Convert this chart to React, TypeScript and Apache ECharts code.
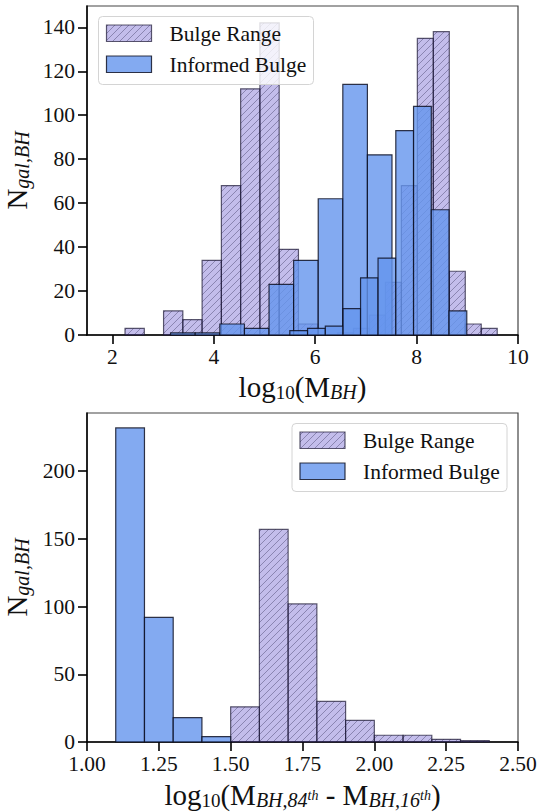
import React, { useEffect, useRef } from "react";
import * as echarts from "echarts";

// ---------- data ----------
// Top panel: log10(M_BH)
const topBulgeLowEdges = [2.25, 2.63, 3.01, 3.39, 3.77, 4.15, 4.53, 4.91, 5.29, 5.67, 6.05];
const topBulgeLowCounts = [3, 0, 11, 7, 34, 68, 112, 142, 39, 5];
const topBulgeHighEdges = [6.44, 6.755, 7.07, 7.385, 7.7, 8.015, 8.33, 8.645, 8.96, 9.275, 9.59];
const topBulgeHighCounts = [1, 3, 9, 24, 68, 135, 138, 29, 5, 3];
const topInformedWideEdges = [3.148, 3.634, 4.12, 4.605, 5.09, 5.575, 6.06, 6.545, 7.03, 7.515];
const topInformedWideCounts = [1, 1, 5, 3, 23, 34, 62, 114, 82];
const topInformedNarrowEdges = [5.5, 5.85, 6.2, 6.55, 6.895, 7.24, 7.59, 7.94, 8.29, 8.64, 8.99];
const topInformedNarrowCounts = [2, 3, 4, 12, 26, 35, 93, 104, 57, 11];
const topXTicks = [2, 4, 6, 8, 10];
const topYTicks = [0, 20, 40, 60, 80, 100, 120, 140];

// Bottom panel: log10(M_BH,84th - M_BH,16th)
const botInformedEdges = [1.1, 1.2, 1.3, 1.4, 1.5];
const botInformedCounts = [232, 92, 18, 4];
const botBulgeEdges = [1.5, 1.6, 1.7, 1.8, 1.9, 2.0, 2.1, 2.2, 2.3, 2.4];
const botBulgeCounts = [26, 157, 102, 30, 16, 5, 5, 2, 1];
const botXTicks = [1.0, 1.25, 1.5, 1.75, 2.0, 2.25, 2.5];
const botYTicks = [0, 50, 100, 150, 200];

const legendLabels = ["Bulge Range", "Informed Bulge"];

// ---------- styles ----------
const FONT = "Liberation Serif";
const PURPLE_FILL = "rgba(106,90,205,0.4)";
const PURPLE_EDGE = "rgba(25,22,50,0.7)";
const HATCH_COLOR = "rgba(35,30,70,0.45)";
const BLUE_FILL = "rgba(100,149,237,0.8)";
const BLUE_EDGE = "rgba(10,12,30,0.82)";
const HATCH_STEP = 7;

function toBins(edges: number[], counts: number[]) {
  return counts.map((c, i) => [edges[i], edges[i + 1], c]);
}

function hatchLines(x0: number, y0: number, w: number, h: number, z?: number) {
  const x1 = x0 + w;
  const y1 = y0 + h;
  const out: any[] = [];
  const start = Math.ceil((x0 + y0) / HATCH_STEP) * HATCH_STEP;
  for (let c = start; c <= x1 + y1; c += HATCH_STEP) {
    const lo = Math.max(x0, c - y1);
    const hi = Math.min(x1, c - y0);
    if (hi - lo > 0.2) {
      const el: any = {
        type: "line",
        shape: { x1: lo, y1: c - lo, x2: hi, y2: c - hi },
        style: { stroke: HATCH_COLOR, lineWidth: 0.8 },
        silent: true,
      };
      if (z !== undefined) el.z = z;
      out.push(el);
    }
  }
  return out;
}

function makeRender(hatched: boolean) {
  return (params: any, api: any) => {
    const cnt = api.value(2);
    if (!cnt) return null;
    const a = api.coord([api.value(0), 0]);
    const b = api.coord([api.value(1), cnt]);
    const x = a[0];
    const y = b[1];
    const w = b[0] - a[0];
    const h = a[1] - b[1];
    const children: any[] = [
      {
        type: "rect",
        shape: { x, y, width: w, height: h },
        style: { fill: hatched ? PURPLE_FILL : BLUE_FILL, stroke: "none" },
      },
    ];
    if (hatched) children.push(...hatchLines(x, y, w, h));
    children.push({
      type: "rect",
      shape: { x, y, width: w, height: h },
      style: { fill: "none", stroke: hatched ? PURPLE_EDGE : BLUE_EDGE, lineWidth: 1.2 },
    });
    return { type: "group", children };
  };
}

function histSeries(data: number[][], hatched: boolean, gi: number, z: number) {
  return {
    type: "custom",
    xAxisIndex: gi,
    yAxisIndex: gi,
    renderItem: makeRender(hatched),
    encode: { x: [0, 1], y: 2 },
    data,
    z,
    silent: true,
  };
}

function legendElements(bx: number, by: number, bw: number, bh: number) {
  const Z = 100;
  const px = bx + 8;
  const pw = 45;
  const ph = 16.5;
  const p1y = by + 8.5;
  const p2y = by + 39.5;
  const tx = bx + 71;
  const ts = { fontFamily: FONT, fontSize: 21.5, fill: "#111", verticalAlign: "middle" };
  return [
    {
      type: "rect",
      z: Z,
      shape: { x: bx, y: by, width: bw, height: bh, r: 4 },
      style: { fill: "rgba(255,255,255,0.8)", stroke: "#d4d4d4", lineWidth: 1 },
    },
    { type: "rect", z: Z + 1, shape: { x: px, y: p1y, width: pw, height: ph }, style: { fill: PURPLE_FILL } },
    ...hatchLines(px, p1y, pw, ph, Z + 2),
    {
      type: "rect",
      z: Z + 3,
      shape: { x: px, y: p1y, width: pw, height: ph },
      style: { fill: "none", stroke: PURPLE_EDGE, lineWidth: 1.2 },
    },
    {
      type: "rect",
      z: Z + 1,
      shape: { x: px, y: p2y, width: pw, height: ph },
      style: { fill: BLUE_FILL, stroke: BLUE_EDGE, lineWidth: 1.2 },
    },
    { type: "text", z: Z + 3, x: tx, y: p1y + ph / 2 + 1, style: { ...ts, text: legendLabels[0] } },
    { type: "text", z: Z + 3, x: tx, y: p2y + ph / 2 + 1, style: { ...ts, text: legendLabels[1] } },
  ];
}

const richName = {
  m: { fontFamily: FONT, fontSize: 29, color: "#111", lineHeight: 30, verticalAlign: "middle" },
  s: { fontFamily: FONT, fontSize: 19, color: "#111", lineHeight: 16, verticalAlign: "bottom" },
  si: { fontFamily: FONT, fontSize: 20, fontStyle: "italic", color: "#111", lineHeight: 16, verticalAlign: "bottom" },
  ss: { fontFamily: FONT, fontSize: 14, fontStyle: "italic", color: "#111", lineHeight: 12, verticalAlign: "middle" },
};

const richTick = {
  t: { fontFamily: FONT, fontSize: 21.5, color: "#111", lineHeight: 20 },
};

function xAxisCfg(gi: number, min: number, max: number, ticks: number[], name: string, gap: number, fmt: (v: number) => string) {
  return {
    type: "value",
    gridIndex: gi,
    min,
    max,
    axisLine: { show: true, onZero: false, lineStyle: { color: "#000", width: 1.5 } },
    axisTick: { show: true, length: 9, customValues: ticks, lineStyle: { color: "#000", width: 1.6 } },
    axisLabel: {
      customValues: ticks,
      formatter: (v: number) => "{t|" + fmt(v) + "}",
      rich: richTick,
      fontFamily: FONT,
      fontSize: 21.5,
      color: "#111",
      margin: 12,
      hideOverlap: false,
    },
    splitLine: { show: false },
    name,
    nameLocation: "middle",
    nameGap: gap,
    nameTextStyle: { fontFamily: FONT, rich: richName },
  };
}

function yAxisCfg(gi: number, max: number, ticks: number[]) {
  return {
    type: "value",
    gridIndex: gi,
    min: 0,
    max,
    axisLine: { show: true, lineStyle: { color: "#000", width: 1.5 } },
    axisTick: { show: true, length: 9, customValues: ticks, lineStyle: { color: "#000", width: 1.6 } },
    axisLabel: {
      customValues: ticks,
      formatter: (v: number) => "{t|" + String(v) + "}",
      rich: richTick,
      fontFamily: FONT,
      fontSize: 21.5,
      color: "#111",
      margin: 12,
      hideOverlap: false,
    },
    splitLine: { show: false },
    name: "{m|N}{si|gal,BH}",
    nameLocation: "middle",
    nameGap: 38,
    nameRotate: 90,
    nameTextStyle: { fontFamily: FONT, rich: richName },
  };
}

export default function App() {
  const ref = useRef<HTMLDivElement>(null);
  useEffect(() => {
    document.body.style.margin = "0";
    if (!ref.current) return;
    const chart = echarts.init(ref.current, undefined, { renderer: "svg" });
    const gridBase = {
      show: true,
      borderColor: "#444",
      borderWidth: 1.2,
      backgroundColor: "transparent",
      containLabel: false,
      outerBoundsMode: "none",
    };
    const option: any = {
      animation: false,
      backgroundColor: "#fff",
      textStyle: { fontFamily: FONT },
      grid: [
        { ...gridBase, left: 87, top: 6, width: 431, height: 329 },
        { ...gridBase, left: 87, top: 413, width: 431, height: 329 },
      ],
      xAxis: [
        xAxisCfg(0, 1.5, 10, topXTicks, "{m|log}{s|10}{m|(M}{si|BH}{m|)}", 37, (v: number) => String(v)),
        xAxisCfg(1, 1.0, 2.5, botXTicks, "{m|log}{s|10}{m|(M}{si|BH,84}{ss|th}{m| - M}{si|BH,16}{ss|th}{m|)}", 38, (v: number) => v.toFixed(2)),
      ],
      yAxis: [yAxisCfg(0, 149.7, topYTicks), yAxisCfg(1, 243, botYTicks)],
      series: [
        histSeries(toBins(topBulgeLowEdges, topBulgeLowCounts), true, 0, 2),
        histSeries(toBins(topBulgeHighEdges, topBulgeHighCounts), true, 0, 3),
        histSeries(toBins(topInformedWideEdges, topInformedWideCounts), false, 0, 4),
        histSeries(toBins(topInformedNarrowEdges, topInformedNarrowCounts), false, 0, 5),
        histSeries(toBins(botBulgeEdges, botBulgeCounts), true, 1, 2),
        histSeries(toBins(botInformedEdges, botInformedCounts), false, 1, 3),
      ],
      graphic: { elements: [...legendElements(98.5, 16.5, 215, 68), ...legendElements(292, 423.5, 215, 68)] },
    };
    chart.setOption(option);
    return () => chart.dispose();
  }, []);
  return <div ref={ref} style={{ width: 540, height: 812 }} />;
}
